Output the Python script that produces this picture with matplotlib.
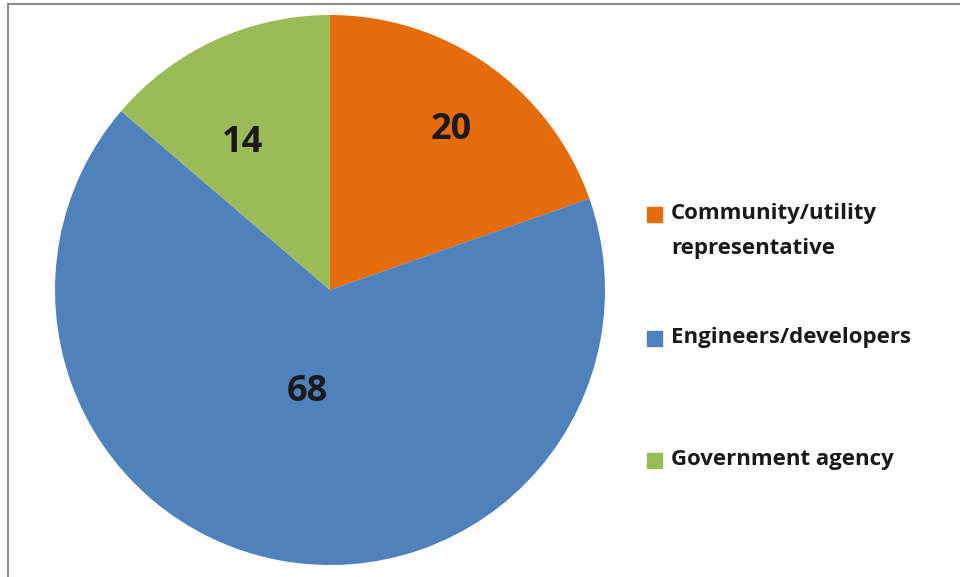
import matplotlib
matplotlib.use("Agg")
import matplotlib.pyplot as plt
import matplotlib.patches as mpatches
import numpy as np

# respondent groups and counts
groups = ["Community/utility\nrepresentative", "Engineers/developers", "Government agency"]
counts = [20, 68, 14]
colors = ["#E46C0A", "#4F81BD", "#9BBB59"]

plt.rcParams['font.family'] = ['Open Sans', 'DejaVu Sans']

fig = plt.figure(figsize=(9.6, 5.77), dpi=100)
ax = fig.add_axes([55 / 960, 12 / 577, 550 / 960, 550 / 577])

wedges, _ = ax.pie(counts, colors=colors, startangle=90, counterclock=False,
                   wedgeprops=dict(linewidth=0))
ax.set_xlim(-1, 1)
ax.set_ylim(-1, 1)
ax.set_aspect('equal')

# value labels inside each slice, distance as fraction of radius
label_r = [0.73, 0.38, 0.62]
label_shift = [-2, -2, 6]
for w, n, r, sh in zip(wedges, counts, label_r, label_shift):
    mid = np.deg2rad((w.theta1 + w.theta2) / 2 + sh)
    ax.text(r * np.cos(mid), r * np.sin(mid), str(n), ha='center', va='center',
            fontsize=26, fontweight='bold', color='#1a1a1a')

# legend drawn as squares + text on the right
leg_y = [214, 338, 460]
for g, c, y in zip(groups, colors, leg_y):
    fy = 1 - y / 577
    fig.patches.append(mpatches.Rectangle((647 / 960, fy - 7.5 / 577), 15 / 960, 15 / 577,
                                          transform=fig.transFigure, color=c))
    fig.text(671 / 960, fy + 11 / 577, g, ha='left', va='top', fontsize=16,
             fontweight='bold', color='#1a1a1a', linespacing=1.85)

# outer frame (top and left edges)
fig.lines.append(plt.Line2D([8 / 960, 1], [1 - 4 / 577, 1 - 4 / 577],
                            transform=fig.transFigure, color='#8c8c8c', lw=1.5))
fig.lines.append(plt.Line2D([8 / 960, 8 / 960], [0, 1 - 4 / 577],
                            transform=fig.transFigure, color='#8c8c8c', lw=1.5))

fig.savefig('out.png', dpi=100)
